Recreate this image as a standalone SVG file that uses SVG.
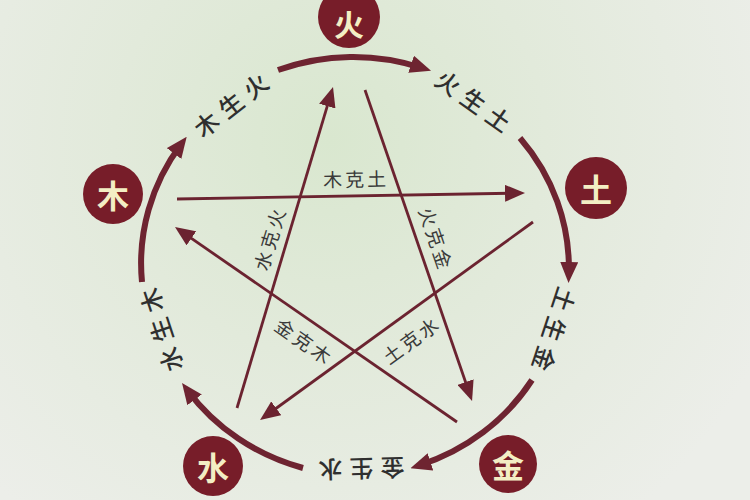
<svg xmlns="http://www.w3.org/2000/svg" width="750" height="500" viewBox="0 0 750 500">
  <defs>
    <radialGradient id="bg" cx="330" cy="140" r="480" gradientUnits="userSpaceOnUse">
      <stop offset="0" stop-color="#d9e7cf"/>
      <stop offset="0.45" stop-color="#e2eadb"/>
      <stop offset="1" stop-color="#eceee9"/>
    </radialGradient>
    <marker id="bigArrow" markerUnits="userSpaceOnUse" markerWidth="21" markerHeight="18" viewBox="0 0 21 18" refX="12" refY="9" orient="auto">
      <path d="M0,0 L21,9 L0,18 Z" fill="#6e2431"/>
    </marker>
    <marker id="smallArrow" markerUnits="userSpaceOnUse" markerWidth="20" markerHeight="17" viewBox="0 0 20 17" refX="14" refY="8.5" orient="auto">
      <path d="M0,0 L20,8.5 L0,17 Z" fill="#6b2330"/>
    </marker>
    <style>
      .arc { fill: none; stroke: #6e2431; stroke-width: 6; marker-end: url(#bigArrow); }
      .line { fill: none; stroke: #6b2330; stroke-width: 2.8; }
      .ke { marker-end: url(#smallArrow); }
      .node circle { fill: #771d29; }
      .node text { fill: #f3eec4; font-family: "Noto Sans CJK SC", "Noto Sans", sans-serif; font-size: 32px; font-weight: 700; text-anchor: middle; dominant-baseline: central; }
      .sheng { fill: #2f2f2f; font-family: "Noto Sans CJK SC", "Noto Sans", sans-serif; font-size: 24px; font-weight: 500; letter-spacing: 7px; text-anchor: middle; dominant-baseline: central; }
      .kelabel { fill: #3a3a3a; font-family: "Noto Sans CJK SC", "Noto Sans", sans-serif; font-size: 19px; letter-spacing: 3px; text-anchor: middle; dominant-baseline: central; }
    </style>
  </defs>

  <rect x="0" y="0" width="750" height="500" fill="url(#bg)"/>

  <g id="connectors">
    <!-- generating cycle (outer arcs) -->
    <path class="arc" d="M142,282 A213,204 0 0 1 181.3,144"/>
    <path class="arc" d="M278,70 A213,204 0 0 1 422.5,68"/>
    <path class="arc" d="M520,138 A213,204 0 0 1 568.8,274"/>
    <path class="arc" d="M532,380 A213,204 0 0 1 419,465.5"/>
    <path class="arc" d="M303,468 A213,204 0 0 1 187.4,390.2"/>
    <!-- controlling cycle (star) -->
    <path class="line ke" d="M177,199 L519,193.1"/>
    <path class="line ke" d="M533,222 L264.9,416.5"/>
    <path class="line ke" d="M237,408 L331.3,92.7"/>
    <path class="line ke" d="M365,90 L470.1,395.3"/>
    <path class="line ke" d="M457,422 L179.9,230.4"/>
  </g>

  <g id="sheng-labels">
    <text class="sheng" transform="translate(233,102) rotate(-38)">木生火</text>
    <text class="sheng" transform="translate(477,102) rotate(35.6)">火生土</text>
    <text class="sheng" transform="translate(554,333) rotate(108.3)">土生金</text>
    <text class="sheng" transform="translate(358,470) rotate(178.3)">金生水</text>
    <text class="sheng" transform="translate(159,327) rotate(-108.2)">水生木</text>
  </g>

  <g id="ke-labels">
    <text class="kelabel" transform="translate(356,178) rotate(-1)">木克土</text>
    <text class="kelabel" transform="translate(269,238) rotate(-73)">水克火</text>
    <text class="kelabel" transform="translate(437,239) rotate(71)">火克金</text>
    <text class="kelabel" transform="translate(305,341) rotate(35)">金克木</text>
    <text class="kelabel" transform="translate(411,339) rotate(-36)">土克水</text>
  </g>

  <g id="node-fire" class="node">
    <circle cx="349" cy="17" r="31"/>
    <text x="349" y="23" style="font-size:30px">火</text>
  </g>
  <g id="node-earth" class="node">
    <circle cx="596" cy="188" r="31"/>
    <text x="596" y="188">土</text>
  </g>
  <g id="node-wood" class="node">
    <circle cx="113" cy="194" r="30"/>
    <text x="113" y="194">木</text>
  </g>
  <g id="node-water" class="node">
    <circle cx="213" cy="466" r="30"/>
    <text x="213" y="466">水</text>
  </g>
  <g id="node-metal" class="node">
    <circle cx="508" cy="464" r="29"/>
    <text x="508" y="464">金</text>
  </g>
</svg>
